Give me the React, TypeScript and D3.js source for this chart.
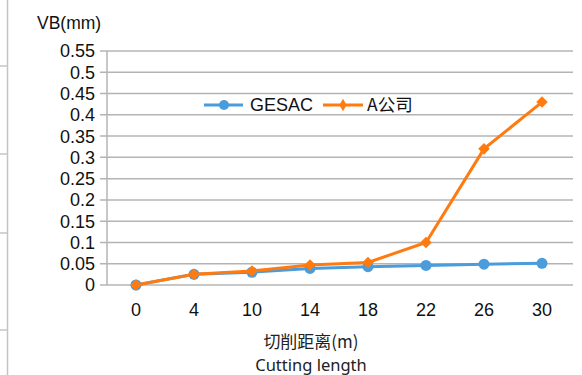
import React from "react";
import * as d3 from "d3";

const categories = ["0", "4", "10", "14", "18", "22", "26", "30"];
const gesac = [0, 0.025, 0.03, 0.039, 0.043, 0.046, 0.049, 0.051];
const aCompany = [0, 0.025, 0.033, 0.047, 0.053, 0.1, 0.32, 0.43];
const yTicks = [0, 0.05, 0.1, 0.15, 0.2, 0.25, 0.3, 0.35, 0.4, 0.45, 0.5, 0.55];
const seriesNames = ["GESAC", "A公司"];

const W = 582;
const H = 375;
const BLUE = "#4b9cdb";
const ORANGE = "#ff7b10";
const GRID = "#b4b4b4";
const FONT = "'Liberation Sans', Arial, Helvetica, sans-serif";
const CJK = "'Noto Sans CJK SC', 'Noto Sans', sans-serif";
const LATIN = "'Noto Sans', 'Open Sans', sans-serif";

export default function App() {
  const x = d3.scalePoint<string>().domain(categories).range([107, 571]).padding(0.5);
  const y = d3.scaleLinear().domain([0, 0.55]).range([285, 51]);
  const line = d3
    .line<number>()
    .x((_, i) => x(categories[i]) as number)
    .y((d) => y(d));
  const diamond = d3.symbol().type(d3.symbolDiamond2 ?? d3.symbolDiamond).size(85)();
  const fmt = (v: number) => String(+v.toFixed(2));

  return (
    <svg width={W} height={H} style={{ position: "absolute", left: 0, top: 0, background: "#fff" }}>
      {/* left edge decoration */}
      <line x1={7.5} x2={7.5} y1={0} y2={H} stroke="#c4c4c4" strokeWidth={1.5} />
      {[66, 154, 233, 330].map((yy) => (
        <line key={yy} x1={0} x2={7} y1={yy} y2={yy} stroke="#c4c4c4" strokeWidth={1.5} />
      ))}

      {/* gridlines & ticks */}
      {yTicks.map((t) => (
        <g key={t}>
          <line x1={100} x2={573} y1={y(t)} y2={y(t)} stroke={GRID} strokeWidth={1.5} />
          <text
            x={95}
            y={y(t)}
            dy="0.36em"
            textAnchor="end"
            fontFamily={FONT}
            fontSize={18}
            fill="#111"
          >
            {fmt(t)}
          </text>
        </g>
      ))}
      <line x1={107} x2={107} y1={y(0.55)} y2={y(0)} stroke={GRID} strokeWidth={1.5} />

      <text x={37} y={29} fontFamily={FONT} fontSize={17.5} fill="#111">
        VB(mm)
      </text>

      {/* x labels */}
      {categories.map((c) => (
        <text
          key={c}
          x={x(c)}
          y={316}
          textAnchor="middle"
          fontFamily={FONT}
          fontSize={18}
          fill="#111"
        >
          {c}
        </text>
      ))}
      <text x={311} y={348} textAnchor="middle" fontFamily={CJK} fontSize={17} fill="#222">
        切削距离(m)
      </text>
      <text x={311} y={371} textAnchor="middle" fontFamily={LATIN} fontSize={16.5} fill="#222">
        Cutting length
      </text>

      {/* series */}
      <path d={line(gesac) || ""} fill="none" stroke={BLUE} strokeWidth={3} />
      {gesac.map((v, i) => (
        <circle key={i} cx={x(categories[i])} cy={y(v)} r={5.5} fill={BLUE} />
      ))}
      <path d={line(aCompany) || ""} fill="none" stroke={ORANGE} strokeWidth={3} />
      {aCompany.map((v, i) => (
        <path
          key={i}
          d={diamond || ""}
          transform={`translate(${x(categories[i])},${y(v)})`}
          fill={ORANGE}
        />
      ))}

      {/* legend */}
      <g>
        <line x1={204} x2={243} y1={105} y2={105} stroke={BLUE} strokeWidth={3} />
        <circle cx={224} cy={105} r={5} fill={BLUE} />
        <text x={250} y={105} dy="0.36em" fontFamily={FONT} fontSize={18} fill="#111">
          {seriesNames[0]}
        </text>
        <line x1={323} x2={363} y1={105} y2={105} stroke={ORANGE} strokeWidth={3} />
        <path d={d3.symbol().type(d3.symbolDiamond).size(45)() || ""} transform="translate(343,105)" fill={ORANGE} />
        <text x={367} y={105} dy="0.36em" fontFamily={CJK} fontSize={17.5} fill="#111">
          {seriesNames[1]}
        </text>
      </g>
    </svg>
  );
}
